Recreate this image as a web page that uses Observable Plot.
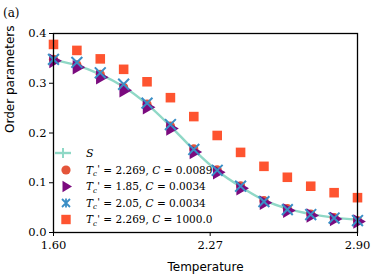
<!DOCTYPE html>
<html><head><meta charset="utf-8">
<script src="https://cdn.jsdelivr.net/npm/d3@7"></script>
<script src="https://cdn.jsdelivr.net/npm/@observablehq/plot@0.6"></script>
<style>
body{margin:0;background:#fff;}
#wrap{position:relative;width:373px;height:280px;overflow:hidden;}
#wrap svg.plot{position:absolute;left:0;top:0;}
#tag{position:absolute;left:3px;top:6px;font-family:"DejaVu Serif",serif;font-size:12px;}
#legend{position:absolute;left:0;top:0;}
</style></head><body>
<div id="wrap"><div id="tag">(a)</div></div>
<script>
const temps = [1.6,1.7,1.8,1.9,2.0,2.1,2.2,2.3,2.4,2.5,2.6,2.7,2.8,2.9];
const sCurve = [0.347,0.336,0.318,0.293,0.258,0.214,0.166,0.124,0.092,0.065,0.048,0.037,0.030,0.026];
const sC0089 = [0.348,0.337,0.318,0.292,0.258,0.214,0.168,0.126,0.094,0.064,0.048,0.037,0.030,0.024];
const s185 = [0.345,0.332,0.312,0.286,0.252,0.209,0.162,0.121,0.089,0.060,0.044,0.034,0.027,0.022];
const s205 = [0.348,0.342,0.321,0.298,0.260,0.217,0.167,0.125,0.093,0.062,0.046,0.036,0.029,0.024];
const sC1000 = [0.378,0.366,0.349,0.328,0.303,0.271,0.233,0.195,0.161,0.133,0.111,0.093,0.080,0.070];
const xTicks = [1.60, 2.27, 2.90];
const yTicks = [0.0, 0.1, 0.2, 0.3, 0.4];
const xLabel = "Temperature";
const yLabel = "Order parameters";
const legendLabels = [
  ["2.269", "0.0089"],
  ["1.85", "0.0034"],
  ["2.05", "0.0034"],
  ["2.269", "1000.0"]
];
const colors = {S:"#8fd8c6", c:"#e4553a", tri:"#7b0a7e", x:"#3a8ec6", sq:"#fe5430"};

const rows = (ys) => temps.map((t,i)=>({t, v: ys[i]}));
const serif = "DejaVu Serif";
const sans = "DejaVu Sans";

const chart = Plot.plot({
  width: 373, height: 280,
  marginLeft: 53, marginRight: 16, marginTop: 33, marginBottom: 48,
  style: {fontFamily: serif, fontSize: "11.5px", color: "#000"},
  x: {domain:[1.6,2.9]},
  y: {domain:[0,0.4]},
  marks: [
    Plot.line(rows(sCurve), {x:"t", y:"v", stroke:colors.S, strokeWidth:2.4, curve:"catmull-rom"}),
    Plot.dot(rows(sC0089), {x:"t", y:"v", symbol:"circle", r:4.6, fill:colors.c, stroke:null}),
    Plot.dot(rows(s185), {x:"t", y:"v", symbol:"triangle", r:5.4, rotate:90, fill:colors.tri, stroke:null}),
    Plot.dot(rows(s205), {x:"t", y:"v", symbol:"times", r:5, stroke:colors.x, strokeWidth:2, fill:null}),
    Plot.dot(rows(sC1000), {x:"t", y:"v", symbol:"square", r:5.4, fill:colors.sq, stroke:null}),
    Plot.frame({stroke:"#000", strokeWidth:1.3}),
    Plot.axisX({ticks:xTicks, tickFormat:d3.format(".2f"), tickSize:4, tickPadding:4, label:null, stroke:"#000", fill:"#000", fontVariant:"normal"}),
    Plot.axisY({ticks:yTicks, tickFormat:d3.format(".1f"), tickSize:4, tickPadding:3, label:null, stroke:"#000", fill:"#000", fontVariant:"normal"}),
    Plot.text([xLabel], {frameAnchor:"bottom", dy:38, text:d=>d, fontFamily:sans, fontSize:12, fill:"#000"}),
    Plot.text([yLabel], {frameAnchor:"left", dx:-43, rotate:-90, text:d=>d, fontFamily:sans, fontSize:12, fill:"#000"})
  ]
});
chart.classList.add("plot");
document.getElementById("wrap").appendChild(chart);

// Legend
const ns = "http://www.w3.org/2000/svg";
const lg = document.createElementNS(ns, "svg");
lg.setAttribute("id","legend");
lg.setAttribute("width","373"); lg.setAttribute("height","280");
const rowY = [153, 170, 186.5, 203, 219.5];
const mx = 66;
let html = "";
html += `<line x1="55" x2="71" y1="${rowY[0]}" y2="${rowY[0]}" stroke="${colors.S}" stroke-width="2.4"/>`;
html += `<line x1="63" x2="63" y1="${rowY[0]-5}" y2="${rowY[0]+5}" stroke="${colors.S}" stroke-width="2"/>`;
html += `<circle cx="${mx}" cy="${rowY[1]}" r="4.6" fill="${colors.c}"/>`;
html += `<path transform="translate(${mx},${rowY[2]})" d="M6,0L-3.5,5.8L-3.5,-5.8Z" fill="${colors.tri}"/>`;
html += `<path transform="translate(${mx},${rowY[3]})" d="M-4,-4L4,4M-4,4L4,-4M0,-4.5L0,4.5" stroke="${colors.x}" stroke-width="1.8" fill="none"/>`;
html += `<rect x="${mx-4.7}" y="${rowY[4]-4.7}" width="9.4" height="9.4" fill="${colors.sq}"/>`;
const tx = 86;
const fam = `font-family="DejaVu Serif, serif"`;
html += `<text x="${tx}" y="${rowY[0]+4}" ${fam} font-size="11" font-style="italic">S</text>`;
legendLabels.forEach(([tc, c], i) => {
  const y = rowY[i+1] + 3.5;
  html += `<text x="${tx}" y="${y}" ${fam} font-size="10.5" fill="#000">` +
    `<tspan font-style="italic">T</tspan>` +
    `<tspan font-size="7" font-style="italic" dx="0" dy="2.5">c</tspan>` +
    `<tspan font-size="10" dx="0.3" dy="-4">'</tspan>` +
    `<tspan dy="1.5" dx="0"> = ${tc}, </tspan>` +
    `<tspan font-style="italic">C</tspan>` +
    `<tspan> = ${c}</tspan></text>`;
});
lg.innerHTML = html;
document.getElementById("wrap").appendChild(lg);
</script>
</body></html>
